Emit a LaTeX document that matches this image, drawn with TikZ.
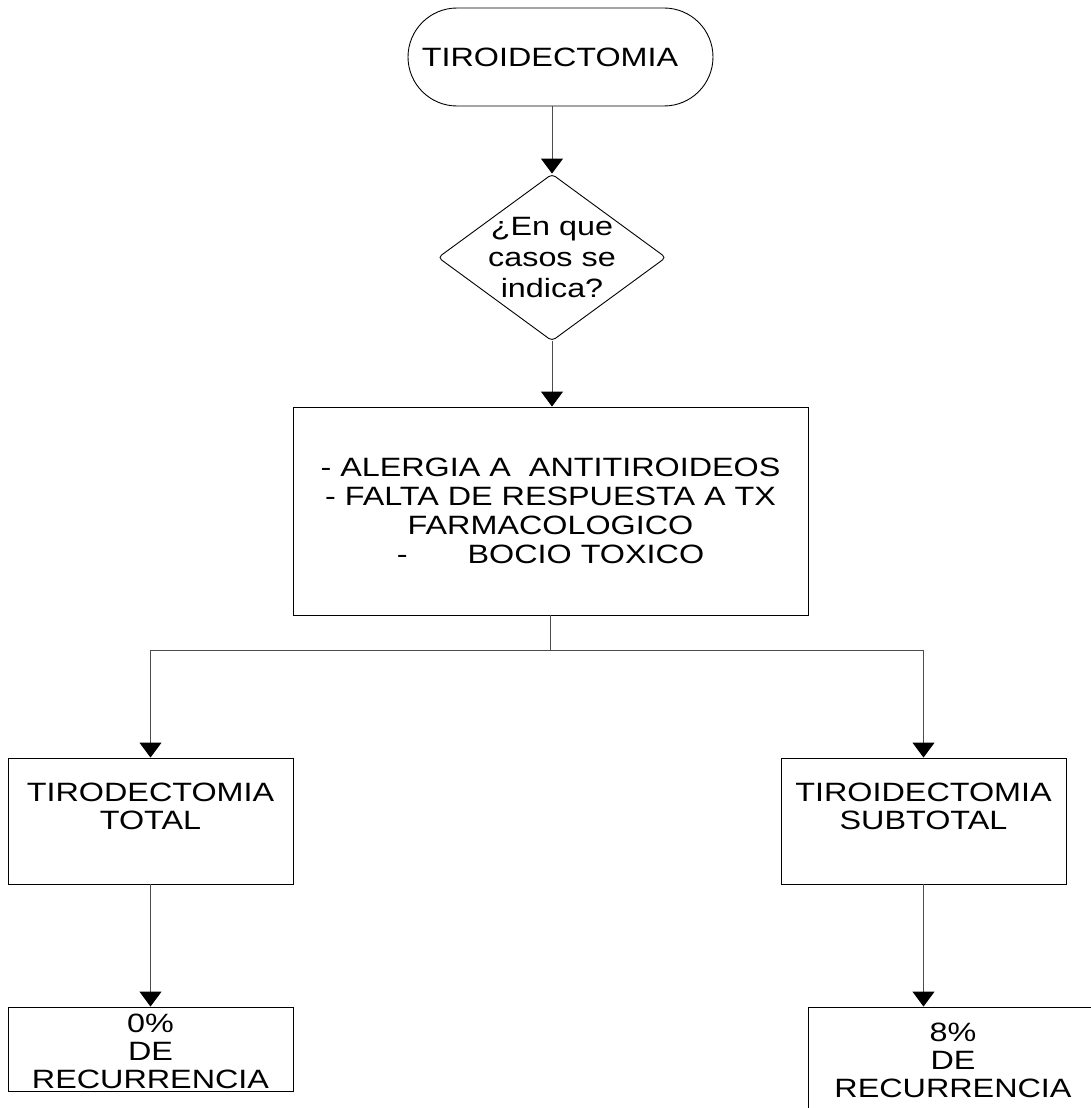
\documentclass[tikz,border=0pt]{standalone}
\usepackage{fontspec}
\setmainfont{Liberation Sans}[FakeStretch=1.22]
\usetikzlibrary{arrows.meta,shapes.geometric}
\begin{document}
\begin{tikzpicture}[x=1pt,y=-1pt,
  every node/.style={font=\fontsize{26.5pt}{29pt}\selectfont, text=black},
  box/.style={draw=black, line width=0.9pt, inner sep=0pt, rectangle},
  term/.style={draw=black, line width=0.9pt, rectangle, rounded corners=49pt, minimum width=305pt, minimum height=98pt, inner sep=0pt},
  decision/.style={draw=black, line width=0.9pt, diamond, minimum width=228pt, minimum height=167pt, inner sep=-30pt, rounded corners=4pt, align=center, font=\fontsize{26.5pt}{31pt}\selectfont},
  conn/.style={draw=black!70, line width=1pt, -{Triangle[width=22pt,length=15pt,color=black]}},
  tight/.style={font=\fontsize{26.5pt}{28pt}\selectfont}
]
\useasboundingbox (0,0) rectangle (1090,1108);
\fill[white] (0,0) rectangle (1090,1108);

\node[term] (start) at (560.5,57) {TIROIDECTOMIA\kern21pt\null};
\node[decision] (q) at (552,257.5) {¿En que\\casos se\\indica?};
\node[box, minimum width=515pt, minimum height=208pt, align=center] (ind) at (550.5,511)
  {- ALERGIA A\ \ ANTITIROIDEOS\\- FALTA DE RESPUESTA A TX\\FARMACOLOGICO\\-\hspace{60pt}BOCIO TOXICO};

\node[box, tight] (tot) at (150.5,821)
  {\parbox[t][126pt][t]{285pt}{\centering\vspace*{24.5pt}TIRODECTOMIA\\TOTAL}};
\node[box, tight] (sub) at (923.5,821)
  {\parbox[t][126pt][t]{285pt}{\centering\vspace*{24.5pt}TIROIDECTOMIA\\SUBTOTAL}};

\node[box, tight] (res0) at (150.5,1049)
  {\parbox[t][84pt][t]{285pt}{\centering\vspace*{6.5pt}0\%\\DE\\RECURRENCIA}};
\node[box, tight] (res8) at (953,1064.5)
  {\parbox[t][115pt][t]{290pt}{\centering\vspace*{15.5pt}8\%\\DE\\RECURRENCIA}};

\draw[conn] (start.south -| q.north) -- (q.north);
\draw[conn] (q.south) -- (q.south |- ind.north);
\draw[conn] (ind.south) -- ++(0,35) -| (tot.north);
\draw[conn] (ind.south) -- ++(0,35) -| (sub.north);
\draw[conn] (tot.south) -- (res0.north);
\draw[conn] (sub.south) -- (sub.south |- res8.north);
\end{tikzpicture}
\end{document}
